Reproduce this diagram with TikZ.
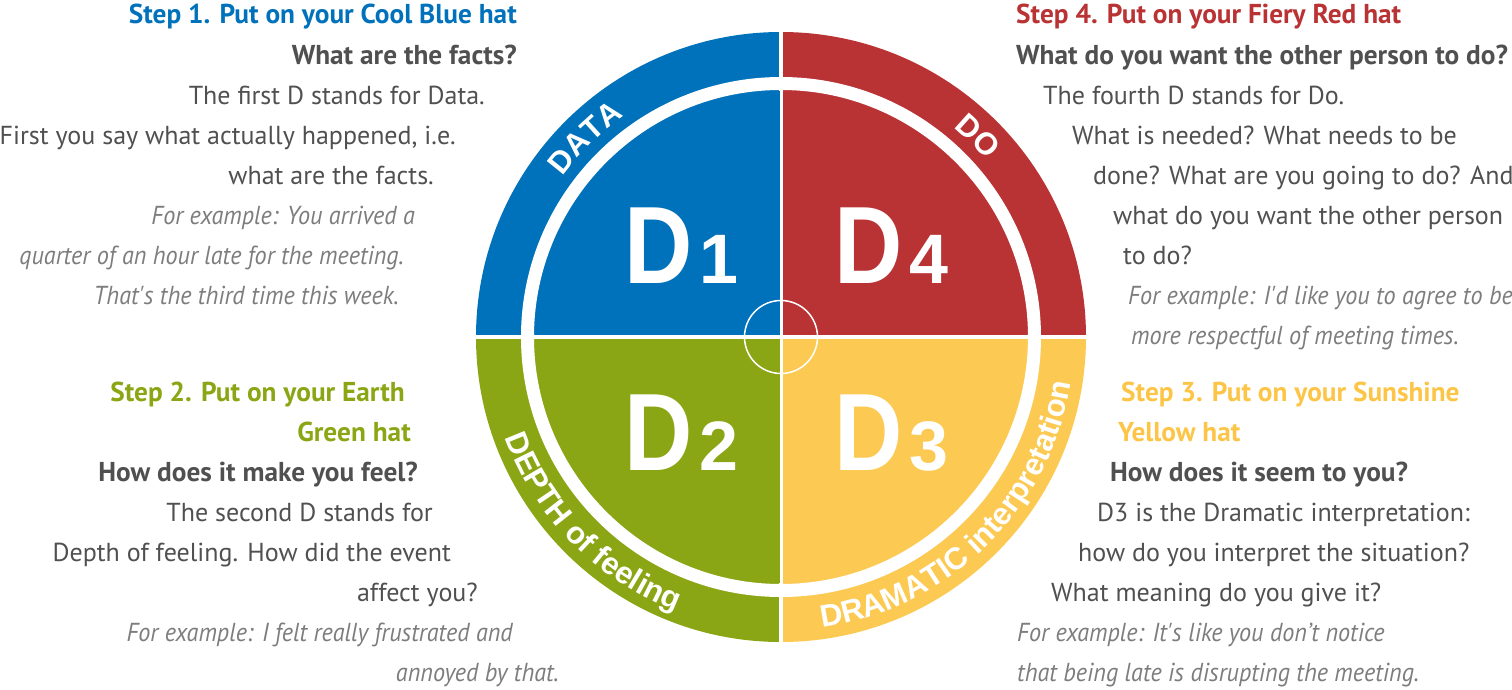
\documentclass[tikz,border=0pt]{standalone}
\usepackage{fontspec}
\setmainfont{PT Sans}
\newfontfamily\examplefont{PT Sans}[FakeStretch=0.93]
\newfontfamily\wheelfont{Liberation Sans}
\newfontfamily\bigdfont{Liberation Sans}[FakeStretch=0.86]
\usetikzlibrary{decorations.text}

\definecolor{dblue}{RGB}{0,113,187}
\definecolor{dred}{RGB}{185,50,52}
\definecolor{dgreen}{RGB}{139,166,20}
\definecolor{dyellow}{RGB}{252,202,82}
\definecolor{stepyellow}{RGB}{253,197,72}
\definecolor{bodygray}{RGB}{80,80,80}
\definecolor{examplegray}{RGB}{125,125,125}
\newcommand\ringstyle{\wheelfont\bfseries\fontsize{31}{31}\selectfont\color{white}}
\newcommand\dnum[1]{\hspace{7pt}{\wheelfont\bfseries\fontsize{70}{70}\selectfont #1}}

\begin{document}
\begin{tikzpicture}[x=1pt,y=1pt,
	textline/.style={inner sep=0pt,text=bodygray,font=\fontsize{26}{26}\selectfont},
	stepline/.style={textline,font=\fontsize{27.3}{27.3}\selectfont\bfseries},
	question/.style={textline,font=\fontsize{27.3}{27.3}\selectfont\bfseries},
	example/.style={textline,text=examplegray,font=\examplefont\fontsize{26}{26}\selectfont\itshape},
	bigd/.style={inner sep=0pt,anchor=base west,text=white,font=\bigdfont\bfseries\fontsize{110}{110}\selectfont},
	ringlabel/.style={decorate,decoration={text along path,text align=center,text={|\ringstyle|#1}}}]
	\useasboundingbox (-781,-352) rectangle (731,337);

	% the wheel
	\foreach \c/\a in {dred/0,dblue/90,dgreen/180,dyellow/270}
		\fill[\c] (0,0) -- (\a:305pt) arc[start angle=\a,end angle=\a+90,radius=305pt] -- cycle;
	\draw[white,line width=13pt] (0,0) circle[radius=253.5pt];
	\draw[white,line width=3pt] (0,-248pt) -- (0,248pt);
	\draw[white,line width=4.5pt] (0,246pt) -- (0,306pt) (0,-246pt) -- (0,-306pt);
	\draw[white,line width=4pt] (-306pt,0) -- (306pt,0);
	\draw[white,line width=1.5pt] (0,0) circle[radius=36.5pt];

	\node (d1) [bigd] at (-157,54) {D\dnum{1}};
	\node (d4) [bigd] at (53,54) {D\dnum{4}};
	\node (d2) [bigd] at (-157,-133) {D\dnum{2}};
	\node (d3) [bigd] at (53,-133) {D\dnum{3}};

	\path[ringlabel=DATA] (169:271pt) arc[start angle=169,end angle=100,radius=271pt];
	\path[ringlabel=DO] (80:271pt) arc[start angle=80,end angle=11,radius=271pt];
	\path[ringlabel=DEPTH of feeling] (190:293.5pt) arc[start angle=190,end angle=259,radius=293.5pt];
	\path[ringlabel=DRAMATIC interpretation] (270:293.5pt) arc[start angle=270,end angle=359,radius=293.5pt];

	% step 1
	\node (s1) [stepline,text=dblue,anchor=base east] at (-264,313) {Step 1. Put on your Cool Blue hat};
	\node (q1) [question,anchor=base east] at (-264,273) {What are the facts?};
	\node (t1a) [textline,anchor=base east] at (-296,233) {The first D stands for Data.};
	\node (t1b) [textline,anchor=base east] at (-325,193) {First you say what actually happened, i.e.};
	\node (t1c) [textline,anchor=base east] at (-347,153) {what are the facts.};
	\node (e1a) [example,anchor=base east] at (-366,113) {For example: You arrived a};
	\node (e1b) [example,anchor=base east] at (-377,73) {quarter of an hour late for the meeting.};
	\node (e1c) [example,anchor=base east] at (-382,33) {That\textquotesingle s the third time this week.};

	% step 4
	\node (s4) [stepline,text=dred,anchor=base west] at (235,313) {Step 4. Put on your Fiery Red hat};
	\node (q4) [question,anchor=base west] at (235,273) {What do you want the other person to do?};
	\node (t4a) [textline,anchor=base west] at (262,233) {The fourth D stands for Do.};
	\node (t4b) [textline,anchor=base west] at (291,193) {What is needed? What needs to be};
	\node (t4c) [textline,anchor=base west] at (312,153) {done? What are you going to do? And};
	\node (t4d) [textline,anchor=base west] at (332,113) {what do you want the other person};
	\node (t4e) [textline,anchor=base west] at (342,73) {to do?};
	\node (e4a) [example,anchor=base west] at (347,33) {For example: I\textquotesingle d like you to agree to be};
	\node (e4b) [example,anchor=base west] at (350,-7) {more respectful of meeting times.};

	% step 2
	\node (s2a) [stepline,text=dgreen,anchor=base east] at (-376,-64) {Step 2. Put on your Earth};
	\node (s2b) [stepline,text=dgreen,anchor=base east] at (-370,-104) {Green hat};
	\node (q2) [question,anchor=base east] at (-363,-144) {How does it make you feel?};
	\node (t2a) [textline,anchor=base east] at (-348,-184) {The second D stands for};
	\node (t2b) [textline,anchor=base east] at (-330,-224) {Depth of feeling. How did the event};
	\node (t2c) [textline,anchor=base east] at (-303,-264) {affect you?};
	\node (e2a) [example,anchor=base east] at (-268,-304) {For example: I felt really frustrated and};
	\node (e2b) [example,anchor=base east] at (-222,-344) {annoyed by that.};

	% step 3
	\node (s3a) [stepline,text=stepyellow,anchor=base west] at (340,-64) {Step 3. Put on your Sunshine};
	\node (s3b) [stepline,text=stepyellow,anchor=base west] at (337,-104) {Yellow hat};
	\node (q3) [question,anchor=base west] at (329,-144) {How does it seem to you?};
	\node (t3a) [textline,anchor=base west] at (316,-184) {D3 is the Dramatic interpretation:};
	\node (t3b) [textline,anchor=base west] at (297,-224) {how do you interpret the situation?};
	\node (t3c) [textline,anchor=base west] at (270,-264) {What meaning do you give it?};
	\node (e3a) [example,anchor=base west] at (236,-304) {For example: It\textquotesingle s like you don’t notice};
	\node (e3b) [example,anchor=base west] at (236,-344) {that being late is disrupting the meeting.};
\end{tikzpicture}
\end{document}
